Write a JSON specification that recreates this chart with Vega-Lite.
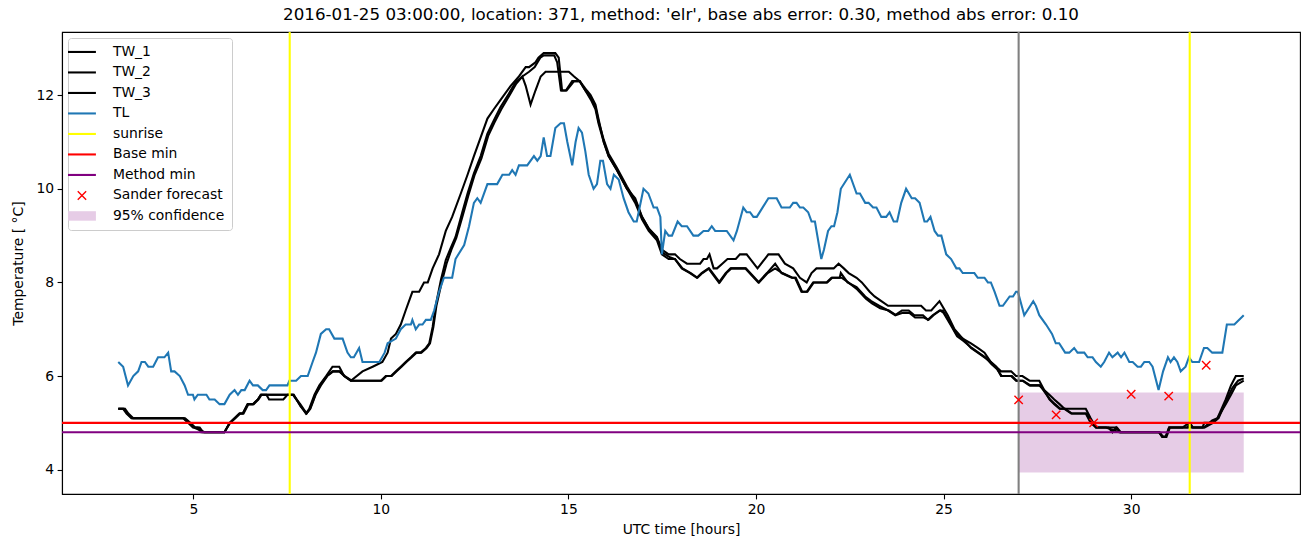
{
  "$schema": "https://vega.github.io/schema/vega-lite/v6.json",
  "autosize": {"type": "none"},
  "width": 1238,
  "height": 462,
  "padding": {"left": 62, "top": 32, "right": 10, "bottom": 53},
  "background": "white",
  "title": {"text": "2016-01-25 03:00:00, location: 371, method: 'elr', base abs error: 0.30, method abs error: 0.10", "font": "DejaVu Sans", "fontSize": 16.7, "fontWeight": "normal", "color": "black", "anchor": "middle", "offset": 7},
  "config": {
    "view": {"stroke": "black", "strokeWidth": 1.1},
    "axis": {"labelFont": "DejaVu Sans", "labelFontSize": 13.9, "titleFont": "DejaVu Sans", "titleFontSize": 13.9, "titleFontWeight": "normal", "labelColor": "black", "titleColor": "black", "tickColor": "black", "domainColor": "black", "domainWidth": 1.1, "tickWidth": 1.1, "grid": false, "tickSize": 4.9, "labelPadding": 3.5},
    "legend": {"labelFont": "DejaVu Sans", "labelFontSize": 13.9, "labelColor": "black"}
  },
  "datasets": {
    "lines": [
      {"s":"TW_1","t":3.0,"v":5.3},{"s":"TW_1","t":3.13,"v":5.3},{"s":"TW_1","t":3.22,"v":5.2},{"s":"TW_1","t":3.35,"v":5.1},{"s":"TW_1","t":4.73,"v":5.1},{"s":"TW_1","t":4.86,"v":5.0},{"s":"TW_1","t":4.99,"v":4.9},{"s":"TW_1","t":5.12,"v":4.9},{"s":"TW_1","t":5.21,"v":4.8},{"s":"TW_1","t":5.83,"v":4.8},{"s":"TW_1","t":5.97,"v":5.0},{"s":"TW_1","t":6.1,"v":5.1},{"s":"TW_1","t":6.23,"v":5.2},{"s":"TW_1","t":6.32,"v":5.2},{"s":"TW_1","t":6.45,"v":5.4},{"s":"TW_1","t":6.59,"v":5.4},{"s":"TW_1","t":6.72,"v":5.5},{"s":"TW_1","t":6.8,"v":5.6},{"s":"TW_1","t":7.51,"v":5.6},{"s":"TW_1","t":7.66,"v":5.6},{"s":"TW_1","t":7.83,"v":5.4},{"s":"TW_1","t":8.0,"v":5.2},{"s":"TW_1","t":8.09,"v":5.3},{"s":"TW_1","t":8.23,"v":5.6},{"s":"TW_1","t":8.36,"v":5.8},{"s":"TW_1","t":8.54,"v":6.0},{"s":"TW_1","t":8.71,"v":6.2},{"s":"TW_1","t":8.89,"v":6.2},{"s":"TW_1","t":9.02,"v":6.0},{"s":"TW_1","t":9.2,"v":5.9},
      {"s":"TW_1","t":9.51,"v":6.1},{"s":"TW_1","t":9.78,"v":6.2},{"s":"TW_1","t":10.04,"v":6.3},{"s":"TW_1","t":10.18,"v":6.5},{"s":"TW_1","t":10.27,"v":6.8},{"s":"TW_1","t":10.4,"v":6.9},{"s":"TW_1","t":10.53,"v":7.1},{"s":"TW_1","t":10.66,"v":7.4},{"s":"TW_1","t":10.84,"v":7.8},{"s":"TW_1","t":11.02,"v":7.8},{"s":"TW_1","t":11.15,"v":8.0},{"s":"TW_1","t":11.25,"v":8.0},{"s":"TW_1","t":11.38,"v":8.3},{"s":"TW_1","t":11.55,"v":8.6},{"s":"TW_1","t":11.73,"v":9.1},{"s":"TW_1","t":11.9,"v":9.4},{"s":"TW_1","t":12.13,"v":9.9},{"s":"TW_1","t":12.31,"v":10.3},{"s":"TW_1","t":12.48,"v":10.7},{"s":"TW_1","t":12.66,"v":11.1},{"s":"TW_1","t":12.84,"v":11.5},{"s":"TW_1","t":13.01,"v":11.7},{"s":"TW_1","t":13.19,"v":11.9},{"s":"TW_1","t":13.46,"v":12.2},{"s":"TW_1","t":13.68,"v":12.4},{"s":"TW_1","t":13.86,"v":12.6},{"s":"TW_1","t":13.95,"v":12.6},{"s":"TW_1","t":14.12,"v":12.7},{"s":"TW_1","t":14.2,"v":12.8},{"s":"TW_1","t":14.34,"v":12.9},{"s":"TW_1","t":14.65,"v":12.9},{"s":"TW_1","t":14.74,"v":12.8},{"s":"TW_1","t":14.83,"v":12.1},{"s":"TW_1","t":14.93,"v":12.1},{"s":"TW_1","t":15.1,"v":12.3},{"s":"TW_1","t":15.3,"v":12.3},{"s":"TW_1","t":15.49,"v":12.1},{"s":"TW_1","t":15.59,"v":12.0},{"s":"TW_1","t":15.72,"v":11.8},{"s":"TW_1","t":15.8,"v":11.5},{"s":"TW_1","t":15.94,"v":11.0},{"s":"TW_1","t":16.07,"v":10.7},{"s":"TW_1","t":16.29,"v":10.4},{"s":"TW_1","t":16.56,"v":10.0},{"s":"TW_1","t":16.78,"v":9.8},{"s":"TW_1","t":16.96,"v":9.4},{"s":"TW_1","t":17.14,"v":9.15},{"s":"TW_1","t":17.36,"v":8.97},{"s":"TW_1","t":17.49,"v":8.7},{"s":"TW_1","t":17.67,"v":8.6},{"s":"TW_1","t":17.84,"v":8.6},{"s":"TW_1","t":17.97,"v":8.5},{"s":"TW_1","t":18.16,"v":8.4},{"s":"TW_1","t":18.51,"v":8.4},{"s":"TW_1","t":18.6,"v":8.5},{"s":"TW_1","t":18.69,"v":8.5},{"s":"TW_1","t":18.76,"v":8.6},{"s":"TW_1","t":18.87,"v":8.3},{"s":"TW_1","t":18.96,"v":8.3},{"s":"TW_1","t":19.1,"v":8.4},{"s":"TW_1","t":19.24,"v":8.5},{"s":"TW_1","t":19.46,"v":8.5},{"s":"TW_1","t":19.57,"v":8.6},{"s":"TW_1","t":19.75,"v":8.6},{"s":"TW_1","t":20.04,"v":8.3},{"s":"TW_1","t":20.33,"v":8.6},{"s":"TW_1","t":20.6,"v":8.6},{"s":"TW_1","t":20.77,"v":8.4},{"s":"TW_1","t":20.99,"v":8.3},{"s":"TW_1","t":21.17,"v":8.1},{"s":"TW_1","t":21.35,"v":8.0},{"s":"TW_1","t":21.48,"v":8.2},{"s":"TW_1","t":21.61,"v":8.3},{"s":"TW_1","t":22.07,"v":8.3},{"s":"TW_1","t":22.2,"v":8.4},{"s":"TW_1","t":22.34,"v":8.3},{"s":"TW_1","t":22.47,"v":8.2},{"s":"TW_1","t":22.68,"v":8.1},{"s":"TW_1","t":22.82,"v":8.0},{"s":"TW_1","t":23.03,"v":7.8},{"s":"TW_1","t":23.16,"v":7.7},{"s":"TW_1","t":23.34,"v":7.6},{"s":"TW_1","t":23.52,"v":7.5},{"s":"TW_1","t":24.4,"v":7.5},{"s":"TW_1","t":24.53,"v":7.4},{"s":"TW_1","t":24.67,"v":7.4},{"s":"TW_1","t":24.89,"v":7.6},{"s":"TW_1","t":25.11,"v":7.3},{"s":"TW_1","t":25.29,"v":7.0},{"s":"TW_1","t":25.51,"v":6.8},{"s":"TW_1","t":25.73,"v":6.7},{"s":"TW_1","t":25.91,"v":6.6},{"s":"TW_1","t":26.09,"v":6.5},{"s":"TW_1","t":26.26,"v":6.3},{"s":"TW_1","t":26.4,"v":6.2},{"s":"TW_1","t":26.53,"v":6.1},{"s":"TW_1","t":26.8,"v":6.1},{"s":"TW_1","t":26.93,"v":6.0},{"s":"TW_1","t":27.1,"v":6.0},{"s":"TW_1","t":27.29,"v":5.9},{"s":"TW_1","t":27.55,"v":5.9},{"s":"TW_1","t":27.68,"v":5.7},{"s":"TW_1","t":27.82,"v":5.6},{"s":"TW_1","t":27.95,"v":5.5},{"s":"TW_1","t":28.09,"v":5.4},{"s":"TW_1","t":28.22,"v":5.3},{"s":"TW_1","t":28.79,"v":5.3},{"s":"TW_1","t":28.92,"v":5.1},{"s":"TW_1","t":29.06,"v":4.9},{"s":"TW_1","t":29.33,"v":4.9},{"s":"TW_1","t":29.68,"v":4.8},{"s":"TW_1","t":30.74,"v":4.8},{"s":"TW_1","t":30.83,"v":4.7},{"s":"TW_1","t":30.92,"v":4.7},{"s":"TW_1","t":31.01,"v":4.9},{"s":"TW_1","t":31.37,"v":4.9},{"s":"TW_1","t":31.54,"v":5.0},{"s":"TW_1","t":31.63,"v":4.9},{"s":"TW_1","t":31.94,"v":4.9},{"s":"TW_1","t":32.16,"v":5.05},{"s":"TW_1","t":32.3,"v":5.1},{"s":"TW_1","t":32.52,"v":5.5},{"s":"TW_1","t":32.66,"v":5.8},{"s":"TW_1","t":32.79,"v":6.0},{"s":"TW_1","t":33.0,"v":6.0},

      {"s":"TW_2","t":3.0,"v":5.3},{"s":"TW_2","t":3.18,"v":5.3},{"s":"TW_2","t":3.27,"v":5.2},{"s":"TW_2","t":3.4,"v":5.1},{"s":"TW_2","t":4.78,"v":5.1},{"s":"TW_2","t":4.92,"v":5.0},{"s":"TW_2","t":5.05,"v":4.9},{"s":"TW_2","t":5.17,"v":4.9},{"s":"TW_2","t":5.26,"v":4.8},{"s":"TW_2","t":5.83,"v":4.8},{"s":"TW_2","t":5.97,"v":5.0},{"s":"TW_2","t":6.1,"v":5.1},{"s":"TW_2","t":6.23,"v":5.2},{"s":"TW_2","t":6.32,"v":5.2},{"s":"TW_2","t":6.45,"v":5.4},{"s":"TW_2","t":6.59,"v":5.4},{"s":"TW_2","t":6.72,"v":5.5},{"s":"TW_2","t":6.8,"v":5.6},{"s":"TW_2","t":6.95,"v":5.6},{"s":"TW_2","t":7.02,"v":5.5},{"s":"TW_2","t":7.4,"v":5.5},{"s":"TW_2","t":7.51,"v":5.6},{"s":"TW_2","t":7.66,"v":5.6},{"s":"TW_2","t":7.85,"v":5.4},{"s":"TW_2","t":8.02,"v":5.2},{"s":"TW_2","t":8.11,"v":5.3},{"s":"TW_2","t":8.25,"v":5.6},{"s":"TW_2","t":8.38,"v":5.8},{"s":"TW_2","t":8.56,"v":6.0},{"s":"TW_2","t":8.71,"v":6.1},{"s":"TW_2","t":8.89,"v":6.1},{"s":"TW_2","t":9.02,"v":6.0},{"s":"TW_2","t":9.2,"v":5.9},
      {"s":"TW_2","t":10.0,"v":5.9},{"s":"TW_2","t":10.13,"v":6.0},{"s":"TW_2","t":10.27,"v":6.0},{"s":"TW_2","t":10.4,"v":6.1},{"s":"TW_2","t":10.53,"v":6.2},{"s":"TW_2","t":10.66,"v":6.3},{"s":"TW_2","t":10.8,"v":6.4},{"s":"TW_2","t":10.93,"v":6.5},{"s":"TW_2","t":11.06,"v":6.5},{"s":"TW_2","t":11.2,"v":6.6},{"s":"TW_2","t":11.29,"v":6.7},{"s":"TW_2","t":11.38,"v":7.05},{"s":"TW_2","t":11.46,"v":7.5},{"s":"TW_2","t":11.6,"v":8.05},{"s":"TW_2","t":11.73,"v":8.48},{"s":"TW_2","t":11.86,"v":8.73},{"s":"TW_2","t":11.99,"v":8.97},{"s":"TW_2","t":12.17,"v":9.5},{"s":"TW_2","t":12.31,"v":9.9},{"s":"TW_2","t":12.48,"v":10.33},{"s":"TW_2","t":12.66,"v":10.7},{"s":"TW_2","t":12.84,"v":11.18},{"s":"TW_2","t":13.01,"v":11.46},{"s":"TW_2","t":13.19,"v":11.75},{"s":"TW_2","t":13.41,"v":12.03},{"s":"TW_2","t":13.59,"v":12.28},{"s":"TW_2","t":13.77,"v":12.4},{"s":"TW_2","t":13.95,"v":12.5},{"s":"TW_2","t":14.1,"v":12.6},{"s":"TW_2","t":14.25,"v":12.8},{"s":"TW_2","t":14.34,"v":12.85},{"s":"TW_2","t":14.62,"v":12.85},{"s":"TW_2","t":14.7,"v":12.7},{"s":"TW_2","t":14.8,"v":12.1},{"s":"TW_2","t":14.95,"v":12.1},{"s":"TW_2","t":15.05,"v":12.2},{"s":"TW_2","t":15.15,"v":12.3},{"s":"TW_2","t":15.3,"v":12.3},{"s":"TW_2","t":15.45,"v":12.1},{"s":"TW_2","t":15.6,"v":11.9},{"s":"TW_2","t":15.72,"v":11.7},{"s":"TW_2","t":15.8,"v":11.4},{"s":"TW_2","t":15.94,"v":11.0},{"s":"TW_2","t":16.07,"v":10.7},{"s":"TW_2","t":16.29,"v":10.4},{"s":"TW_2","t":16.56,"v":10.0},{"s":"TW_2","t":16.78,"v":9.7},{"s":"TW_2","t":16.96,"v":9.35},{"s":"TW_2","t":17.14,"v":9.1},{"s":"TW_2","t":17.36,"v":8.9},{"s":"TW_2","t":17.49,"v":8.6},{"s":"TW_2","t":17.67,"v":8.5},{"s":"TW_2","t":17.84,"v":8.5},{"s":"TW_2","t":18.02,"v":8.3},{"s":"TW_2","t":18.24,"v":8.2},{"s":"TW_2","t":18.42,"v":8.1},{"s":"TW_2","t":18.55,"v":8.2},{"s":"TW_2","t":18.73,"v":8.3},{"s":"TW_2","t":19.01,"v":8.0},{"s":"TW_2","t":19.19,"v":8.2},{"s":"TW_2","t":19.32,"v":8.3},{"s":"TW_2","t":19.71,"v":8.3},{"s":"TW_2","t":20.06,"v":8.0},{"s":"TW_2","t":20.29,"v":8.2},{"s":"TW_2","t":20.51,"v":8.4},{"s":"TW_2","t":20.68,"v":8.2},{"s":"TW_2","t":20.95,"v":8.1},{"s":"TW_2","t":21.04,"v":8.1},{"s":"TW_2","t":21.21,"v":7.8},{"s":"TW_2","t":21.35,"v":7.8},{"s":"TW_2","t":21.52,"v":8.0},{"s":"TW_2","t":21.88,"v":8.0},{"s":"TW_2","t":22.01,"v":8.1},{"s":"TW_2","t":22.23,"v":8.1},{"s":"TW_2","t":22.26,"v":8.2},{"s":"TW_2","t":22.44,"v":8.0},{"s":"TW_2","t":22.68,"v":7.9},{"s":"TW_2","t":22.91,"v":7.7},{"s":"TW_2","t":23.07,"v":7.6},{"s":"TW_2","t":23.29,"v":7.5},{"s":"TW_2","t":23.52,"v":7.4},{"s":"TW_2","t":23.71,"v":7.3},{"s":"TW_2","t":23.89,"v":7.4},{"s":"TW_2","t":24.07,"v":7.4},{"s":"TW_2","t":24.22,"v":7.3},{"s":"TW_2","t":24.45,"v":7.3},{"s":"TW_2","t":24.58,"v":7.2},{"s":"TW_2","t":24.71,"v":7.3},{"s":"TW_2","t":24.89,"v":7.4},{"s":"TW_2","t":24.98,"v":7.4},{"s":"TW_2","t":25.2,"v":7.1},{"s":"TW_2","t":25.34,"v":6.9},{"s":"TW_2","t":25.51,"v":6.8},{"s":"TW_2","t":25.73,"v":6.6},{"s":"TW_2","t":25.91,"v":6.5},{"s":"TW_2","t":26.09,"v":6.4},{"s":"TW_2","t":26.26,"v":6.3},{"s":"TW_2","t":26.4,"v":6.2},{"s":"TW_2","t":26.53,"v":6.0},{"s":"TW_2","t":26.8,"v":6.0},{"s":"TW_2","t":26.93,"v":5.9},{"s":"TW_2","t":27.1,"v":5.9},{"s":"TW_2","t":27.29,"v":5.8},{"s":"TW_2","t":27.55,"v":5.8},{"s":"TW_2","t":27.68,"v":5.7},{"s":"TW_2","t":27.82,"v":5.5},{"s":"TW_2","t":27.95,"v":5.4},{"s":"TW_2","t":28.09,"v":5.3},{"s":"TW_2","t":28.22,"v":5.3},{"s":"TW_2","t":28.4,"v":5.2},{"s":"TW_2","t":28.79,"v":5.2},{"s":"TW_2","t":28.92,"v":5.0},{"s":"TW_2","t":29.06,"v":4.9},{"s":"TW_2","t":29.4,"v":4.9},{"s":"TW_2","t":29.5,"v":4.8},{"s":"TW_2","t":29.6,"v":4.9},{"s":"TW_2","t":29.7,"v":4.8},{"s":"TW_2","t":30.74,"v":4.8},{"s":"TW_2","t":30.83,"v":4.7},{"s":"TW_2","t":30.92,"v":4.7},{"s":"TW_2","t":31.01,"v":4.9},{"s":"TW_2","t":31.9,"v":4.9},{"s":"TW_2","t":31.95,"v":5.0},{"s":"TW_2","t":32.16,"v":5.0},{"s":"TW_2","t":32.3,"v":5.1},{"s":"TW_2","t":32.52,"v":5.4},{"s":"TW_2","t":32.66,"v":5.6},{"s":"TW_2","t":32.79,"v":5.8},{"s":"TW_2","t":33.0,"v":5.9},

      {"s":"TW_3","t":3.0,"v":5.3},{"s":"TW_3","t":3.15,"v":5.3},{"s":"TW_3","t":3.24,"v":5.2},{"s":"TW_3","t":3.37,"v":5.1},{"s":"TW_3","t":4.75,"v":5.1},{"s":"TW_3","t":4.89,"v":5.0},{"s":"TW_3","t":5.02,"v":4.9},{"s":"TW_3","t":5.3,"v":4.8},{"s":"TW_3","t":5.83,"v":4.8},{"s":"TW_3","t":5.98,"v":5.0},{"s":"TW_3","t":6.12,"v":5.1},{"s":"TW_3","t":6.25,"v":5.2},{"s":"TW_3","t":6.34,"v":5.2},{"s":"TW_3","t":6.47,"v":5.4},{"s":"TW_3","t":6.61,"v":5.4},{"s":"TW_3","t":6.74,"v":5.5},{"s":"TW_3","t":6.82,"v":5.6},{"s":"TW_3","t":7.55,"v":5.6},{"s":"TW_3","t":7.68,"v":5.6},{"s":"TW_3","t":7.86,"v":5.35},{"s":"TW_3","t":8.02,"v":5.2},{"s":"TW_3","t":8.12,"v":5.3},{"s":"TW_3","t":8.26,"v":5.6},{"s":"TW_3","t":8.4,"v":5.8},{"s":"TW_3","t":8.57,"v":6.0},{"s":"TW_3","t":8.73,"v":6.1},{"s":"TW_3","t":8.89,"v":6.1},{"s":"TW_3","t":9.04,"v":6.0},{"s":"TW_3","t":9.22,"v":5.9},
      {"s":"TW_3","t":10.02,"v":5.9},{"s":"TW_3","t":10.15,"v":6.0},{"s":"TW_3","t":10.29,"v":6.0},{"s":"TW_3","t":10.42,"v":6.1},{"s":"TW_3","t":10.55,"v":6.2},{"s":"TW_3","t":10.68,"v":6.3},{"s":"TW_3","t":10.82,"v":6.4},{"s":"TW_3","t":10.95,"v":6.5},{"s":"TW_3","t":11.08,"v":6.5},{"s":"TW_3","t":11.22,"v":6.6},{"s":"TW_3","t":11.31,"v":6.7},{"s":"TW_3","t":11.4,"v":7.05},{"s":"TW_3","t":11.48,"v":7.5},{"s":"TW_3","t":11.62,"v":8.0},{"s":"TW_3","t":11.75,"v":8.4},{"s":"TW_3","t":11.88,"v":8.7},{"s":"TW_3","t":12.01,"v":8.95},{"s":"TW_3","t":12.19,"v":9.45},{"s":"TW_3","t":12.33,"v":9.85},{"s":"TW_3","t":12.5,"v":10.3},{"s":"TW_3","t":12.68,"v":10.65},{"s":"TW_3","t":12.86,"v":11.13},{"s":"TW_3","t":13.03,"v":11.42},{"s":"TW_3","t":13.21,"v":11.7},{"s":"TW_3","t":13.43,"v":12.0},{"s":"TW_3","t":13.61,"v":12.25},{"s":"TW_3","t":13.77,"v":12.4},{"s":"TW_3","t":13.86,"v":12.2},{"s":"TW_3","t":13.99,"v":11.8},{"s":"TW_3","t":14.12,"v":12.1},{"s":"TW_3","t":14.26,"v":12.4},{"s":"TW_3","t":14.39,"v":12.5},{"s":"TW_3","t":15.01,"v":12.5},{"s":"TW_3","t":15.15,"v":12.4},{"s":"TW_3","t":15.3,"v":12.3},{"s":"TW_3","t":15.45,"v":12.1},{"s":"TW_3","t":15.6,"v":11.95},{"s":"TW_3","t":15.72,"v":11.75},{"s":"TW_3","t":15.8,"v":11.45},{"s":"TW_3","t":15.94,"v":11.05},{"s":"TW_3","t":16.07,"v":10.75},{"s":"TW_3","t":16.29,"v":10.45},{"s":"TW_3","t":16.56,"v":10.05},{"s":"TW_3","t":16.78,"v":9.75},{"s":"TW_3","t":16.96,"v":9.4},{"s":"TW_3","t":17.14,"v":9.15},{"s":"TW_3","t":17.36,"v":8.95},{"s":"TW_3","t":17.49,"v":8.65},{"s":"TW_3","t":17.67,"v":8.55},{"s":"TW_3","t":17.84,"v":8.5},{"s":"TW_3","t":18.04,"v":8.3},{"s":"TW_3","t":18.26,"v":8.2},{"s":"TW_3","t":18.44,"v":8.1},{"s":"TW_3","t":18.57,"v":8.2},{"s":"TW_3","t":18.75,"v":8.3},{"s":"TW_3","t":19.03,"v":8.0},{"s":"TW_3","t":19.21,"v":8.2},{"s":"TW_3","t":19.34,"v":8.3},{"s":"TW_3","t":19.73,"v":8.3},{"s":"TW_3","t":20.08,"v":8.0},{"s":"TW_3","t":20.31,"v":8.2},{"s":"TW_3","t":20.51,"v":8.3},{"s":"TW_3","t":20.7,"v":8.2},{"s":"TW_3","t":20.97,"v":8.1},{"s":"TW_3","t":21.06,"v":8.1},{"s":"TW_3","t":21.23,"v":7.8},{"s":"TW_3","t":21.37,"v":7.8},{"s":"TW_3","t":21.54,"v":8.0},{"s":"TW_3","t":21.9,"v":8.0},{"s":"TW_3","t":22.03,"v":8.1},{"s":"TW_3","t":22.28,"v":8.1},{"s":"TW_3","t":22.46,"v":8.0},{"s":"TW_3","t":22.7,"v":7.85},{"s":"TW_3","t":22.93,"v":7.65},{"s":"TW_3","t":23.09,"v":7.55},{"s":"TW_3","t":23.31,"v":7.45},{"s":"TW_3","t":23.54,"v":7.4},{"s":"TW_3","t":23.73,"v":7.3},{"s":"TW_3","t":23.91,"v":7.35},{"s":"TW_3","t":24.09,"v":7.35},{"s":"TW_3","t":24.24,"v":7.25},{"s":"TW_3","t":24.47,"v":7.25},{"s":"TW_3","t":24.6,"v":7.2},{"s":"TW_3","t":24.73,"v":7.3},{"s":"TW_3","t":24.91,"v":7.4},{"s":"TW_3","t":25.0,"v":7.35},{"s":"TW_3","t":25.22,"v":7.05},{"s":"TW_3","t":25.36,"v":6.85},{"s":"TW_3","t":25.53,"v":6.75},{"s":"TW_3","t":25.75,"v":6.6},{"s":"TW_3","t":25.93,"v":6.5},{"s":"TW_3","t":26.11,"v":6.4},{"s":"TW_3","t":26.28,"v":6.25},{"s":"TW_3","t":26.42,"v":6.15},{"s":"TW_3","t":26.55,"v":6.0},{"s":"TW_3","t":26.82,"v":6.0},{"s":"TW_3","t":26.95,"v":5.9},{"s":"TW_3","t":27.12,"v":5.9},{"s":"TW_3","t":27.31,"v":5.8},{"s":"TW_3","t":27.57,"v":5.8},{"s":"TW_3","t":27.7,"v":5.65},{"s":"TW_3","t":27.84,"v":5.5},{"s":"TW_3","t":27.97,"v":5.4},{"s":"TW_3","t":28.11,"v":5.3},{"s":"TW_3","t":28.24,"v":5.3},{"s":"TW_3","t":28.42,"v":5.2},{"s":"TW_3","t":28.81,"v":5.2},{"s":"TW_3","t":28.94,"v":5.0},{"s":"TW_3","t":29.08,"v":4.9},{"s":"TW_3","t":29.62,"v":4.9},{"s":"TW_3","t":29.72,"v":4.8},{"s":"TW_3","t":30.76,"v":4.8},{"s":"TW_3","t":30.85,"v":4.7},{"s":"TW_3","t":30.94,"v":4.7},{"s":"TW_3","t":31.03,"v":4.9},{"s":"TW_3","t":31.5,"v":4.9},{"s":"TW_3","t":31.56,"v":5.0},{"s":"TW_3","t":31.65,"v":4.9},{"s":"TW_3","t":31.96,"v":4.9},{"s":"TW_3","t":32.18,"v":5.0},{"s":"TW_3","t":32.33,"v":5.1},{"s":"TW_3","t":32.55,"v":5.5},{"s":"TW_3","t":32.7,"v":5.75},{"s":"TW_3","t":32.85,"v":5.9},{"s":"TW_3","t":33.0,"v":5.95},

      {"s":"TL","t":3.0,"v":6.3},{"s":"TL","t":3.13,"v":6.2},{"s":"TL","t":3.26,"v":5.8},{"s":"TL","t":3.4,"v":6.0},{"s":"TL","t":3.53,"v":6.1},{"s":"TL","t":3.62,"v":6.3},{"s":"TL","t":3.71,"v":6.3},{"s":"TL","t":3.8,"v":6.2},{"s":"TL","t":3.93,"v":6.2},{"s":"TL","t":4.06,"v":6.4},{"s":"TL","t":4.23,"v":6.4},{"s":"TL","t":4.33,"v":6.5},{"s":"TL","t":4.41,"v":6.1},{"s":"TL","t":4.5,"v":6.1},{"s":"TL","t":4.64,"v":6.0},{"s":"TL","t":4.77,"v":5.8},{"s":"TL","t":4.86,"v":5.6},{"s":"TL","t":4.99,"v":5.6},{"s":"TL","t":5.03,"v":5.5},{"s":"TL","t":5.12,"v":5.6},{"s":"TL","t":5.35,"v":5.6},{"s":"TL","t":5.43,"v":5.5},{"s":"TL","t":5.57,"v":5.5},{"s":"TL","t":5.7,"v":5.4},{"s":"TL","t":5.83,"v":5.4},{"s":"TL","t":5.97,"v":5.6},{"s":"TL","t":6.1,"v":5.7},{"s":"TL","t":6.19,"v":5.6},{"s":"TL","t":6.28,"v":5.7},{"s":"TL","t":6.37,"v":5.7},{"s":"TL","t":6.5,"v":5.9},{"s":"TL","t":6.59,"v":5.8},{"s":"TL","t":6.72,"v":5.8},{"s":"TL","t":6.85,"v":5.7},{"s":"TL","t":6.94,"v":5.7},{"s":"TL","t":7.03,"v":5.8},{"s":"TL","t":7.51,"v":5.8},{"s":"TL","t":7.56,"v":5.9},{"s":"TL","t":7.74,"v":5.9},{"s":"TL","t":7.87,"v":6.0},{"s":"TL","t":8.05,"v":6.0},{"s":"TL","t":8.18,"v":6.3},{"s":"TL","t":8.27,"v":6.5},{"s":"TL","t":8.4,"v":6.9},{"s":"TL","t":8.54,"v":7.0},{"s":"TL","t":8.62,"v":7.0},{"s":"TL","t":8.76,"v":6.8},{"s":"TL","t":8.98,"v":6.8},{"s":"TL","t":9.11,"v":6.5},{"s":"TL","t":9.2,"v":6.4},{"s":"TL","t":9.28,"v":6.4},{"s":"TL","t":9.42,"v":6.6},{"s":"TL","t":9.51,"v":6.3},{"s":"TL","t":9.96,"v":6.3},{"s":"TL","t":10.1,"v":6.5},{"s":"TL","t":10.18,"v":6.7},{"s":"TL","t":10.4,"v":6.8},{"s":"TL","t":10.53,"v":7.0},{"s":"TL","t":10.66,"v":7.1},{"s":"TL","t":10.8,"v":7.1},{"s":"TL","t":10.84,"v":7.2},{"s":"TL","t":10.93,"v":7.0},{"s":"TL","t":11.02,"v":7.1},{"s":"TL","t":11.11,"v":7.1},{"s":"TL","t":11.2,"v":7.2},{"s":"TL","t":11.33,"v":7.2},{"s":"TL","t":11.42,"v":7.4},{"s":"TL","t":11.55,"v":7.8},{"s":"TL","t":11.68,"v":8.1},{"s":"TL","t":11.9,"v":8.1},{"s":"TL","t":11.99,"v":8.5},{"s":"TL","t":12.22,"v":8.8},{"s":"TL","t":12.35,"v":9.2},{"s":"TL","t":12.48,"v":9.7},{"s":"TL","t":12.57,"v":9.8},{"s":"TL","t":12.66,"v":9.7},{"s":"TL","t":12.84,"v":10.1},{"s":"TL","t":13.1,"v":10.1},{"s":"TL","t":13.24,"v":10.3},{"s":"TL","t":13.42,"v":10.3},{"s":"TL","t":13.5,"v":10.4},{"s":"TL","t":13.59,"v":10.3},{"s":"TL","t":13.68,"v":10.5},{"s":"TL","t":13.9,"v":10.5},{"s":"TL","t":14.08,"v":10.7},{"s":"TL","t":14.17,"v":10.6},{"s":"TL","t":14.26,"v":10.7},{"s":"TL","t":14.34,"v":11.1},{"s":"TL","t":14.43,"v":10.7},{"s":"TL","t":14.52,"v":10.7},{"s":"TL","t":14.65,"v":11.3},{"s":"TL","t":14.79,"v":11.4},{"s":"TL","t":14.88,"v":11.4},{"s":"TL","t":14.97,"v":11.0},{"s":"TL","t":15.1,"v":10.5},{"s":"TL","t":15.19,"v":11.0},{"s":"TL","t":15.27,"v":11.3},{"s":"TL","t":15.36,"v":11.2},{"s":"TL","t":15.45,"v":10.8},{"s":"TL","t":15.54,"v":10.3},{"s":"TL","t":15.67,"v":10.0},{"s":"TL","t":15.76,"v":10.1},{"s":"TL","t":15.85,"v":10.6},{"s":"TL","t":15.92,"v":10.6},{"s":"TL","t":16.03,"v":10.1},{"s":"TL","t":16.12,"v":10.0},{"s":"TL","t":16.21,"v":10.3},{"s":"TL","t":16.34,"v":10.2},{"s":"TL","t":16.47,"v":9.8},{"s":"TL","t":16.6,"v":9.5},{"s":"TL","t":16.74,"v":9.3},{"s":"TL","t":16.82,"v":9.3},{"s":"TL","t":17.0,"v":10.0},{"s":"TL","t":17.13,"v":9.9},{"s":"TL","t":17.27,"v":9.6},{"s":"TL","t":17.36,"v":9.6},{"s":"TL","t":17.45,"v":9.4},{"s":"TL","t":17.49,"v":8.6},{"s":"TL","t":17.58,"v":9.1},{"s":"TL","t":17.67,"v":9.0},{"s":"TL","t":17.76,"v":9.0},{"s":"TL","t":17.91,"v":9.3},{"s":"TL","t":18.02,"v":9.2},{"s":"TL","t":18.16,"v":9.2},{"s":"TL","t":18.33,"v":9.0},{"s":"TL","t":18.46,"v":9.0},{"s":"TL","t":18.6,"v":9.1},{"s":"TL","t":18.73,"v":9.1},{"s":"TL","t":18.82,"v":9.2},{"s":"TL","t":18.91,"v":9.1},{"s":"TL","t":19.22,"v":9.1},{"s":"TL","t":19.4,"v":8.9},{"s":"TL","t":19.49,"v":9.1},{"s":"TL","t":19.66,"v":9.6},{"s":"TL","t":19.75,"v":9.5},{"s":"TL","t":19.84,"v":9.5},{"s":"TL","t":19.93,"v":9.4},{"s":"TL","t":20.02,"v":9.4},{"s":"TL","t":20.33,"v":9.8},{"s":"TL","t":20.55,"v":9.8},{"s":"TL","t":20.68,"v":9.6},{"s":"TL","t":20.9,"v":9.6},{"s":"TL","t":20.99,"v":9.7},{"s":"TL","t":21.08,"v":9.7},{"s":"TL","t":21.17,"v":9.6},{"s":"TL","t":21.26,"v":9.6},{"s":"TL","t":21.39,"v":9.5},{"s":"TL","t":21.48,"v":9.3},{"s":"TL","t":21.57,"v":9.3},{"s":"TL","t":21.74,"v":8.5},{"s":"TL","t":21.81,"v":8.7},{"s":"TL","t":21.92,"v":9.1},{"s":"TL","t":22.01,"v":9.2},{"s":"TL","t":22.08,"v":9.2},{"s":"TL","t":22.17,"v":9.5},{"s":"TL","t":22.26,"v":10.0},{"s":"TL","t":22.5,"v":10.3},{"s":"TL","t":22.68,"v":9.9},{"s":"TL","t":22.77,"v":9.9},{"s":"TL","t":22.91,"v":9.7},{"s":"TL","t":23.0,"v":9.7},{"s":"TL","t":23.12,"v":9.6},{"s":"TL","t":23.21,"v":9.6},{"s":"TL","t":23.34,"v":9.4},{"s":"TL","t":23.47,"v":9.4},{"s":"TL","t":23.56,"v":9.5},{"s":"TL","t":23.67,"v":9.3},{"s":"TL","t":23.76,"v":9.3},{"s":"TL","t":23.87,"v":9.7},{"s":"TL","t":24.0,"v":10.0},{"s":"TL","t":24.15,"v":9.8},{"s":"TL","t":24.24,"v":9.8},{"s":"TL","t":24.36,"v":9.7},{"s":"TL","t":24.49,"v":9.3},{"s":"TL","t":24.56,"v":9.3},{"s":"TL","t":24.65,"v":9.4},{"s":"TL","t":24.76,"v":9.1},{"s":"TL","t":24.85,"v":9.0},{"s":"TL","t":24.94,"v":9.0},{"s":"TL","t":25.07,"v":8.6},{"s":"TL","t":25.2,"v":8.5},{"s":"TL","t":25.34,"v":8.3},{"s":"TL","t":25.42,"v":8.3},{"s":"TL","t":25.51,"v":8.2},{"s":"TL","t":25.82,"v":8.2},{"s":"TL","t":25.91,"v":8.1},{"s":"TL","t":26.09,"v":8.1},{"s":"TL","t":26.18,"v":8.0},{"s":"TL","t":26.26,"v":8.0},{"s":"TL","t":26.36,"v":7.8},{"s":"TL","t":26.49,"v":7.5},{"s":"TL","t":26.58,"v":7.5},{"s":"TL","t":26.76,"v":7.7},{"s":"TL","t":26.85,"v":7.7},{"s":"TL","t":26.93,"v":7.8},{"s":"TL","t":26.98,"v":7.8},{"s":"TL","t":27.15,"v":7.3},{"s":"TL","t":27.39,"v":7.6},{"s":"TL","t":27.46,"v":7.5},{"s":"TL","t":27.55,"v":7.3},{"s":"TL","t":27.73,"v":7.1},{"s":"TL","t":27.89,"v":6.9},{"s":"TL","t":27.99,"v":6.7},{"s":"TL","t":28.08,"v":6.7},{"s":"TL","t":28.24,"v":6.5},{"s":"TL","t":28.35,"v":6.5},{"s":"TL","t":28.48,"v":6.6},{"s":"TL","t":28.57,"v":6.5},{"s":"TL","t":28.75,"v":6.5},{"s":"TL","t":28.84,"v":6.4},{"s":"TL","t":28.97,"v":6.4},{"s":"TL","t":29.06,"v":6.3},{"s":"TL","t":29.19,"v":6.2},{"s":"TL","t":29.28,"v":6.3},{"s":"TL","t":29.41,"v":6.5},{"s":"TL","t":29.5,"v":6.4},{"s":"TL","t":29.64,"v":6.5},{"s":"TL","t":29.73,"v":6.4},{"s":"TL","t":29.82,"v":6.5},{"s":"TL","t":29.95,"v":6.3},{"s":"TL","t":30.04,"v":6.3},{"s":"TL","t":30.17,"v":6.2},{"s":"TL","t":30.26,"v":6.2},{"s":"TL","t":30.35,"v":6.3},{"s":"TL","t":30.48,"v":6.3},{"s":"TL","t":30.57,"v":6.2},{"s":"TL","t":30.73,"v":5.7},{"s":"TL","t":30.85,"v":6.1},{"s":"TL","t":30.98,"v":6.4},{"s":"TL","t":31.05,"v":6.3},{"s":"TL","t":31.14,"v":6.4},{"s":"TL","t":31.23,"v":6.3},{"s":"TL","t":31.32,"v":6.1},{"s":"TL","t":31.45,"v":6.2},{"s":"TL","t":31.54,"v":6.4},{"s":"TL","t":31.63,"v":6.3},{"s":"TL","t":31.81,"v":6.3},{"s":"TL","t":31.94,"v":6.6},{"s":"TL","t":32.03,"v":6.6},{"s":"TL","t":32.16,"v":6.5},{"s":"TL","t":32.43,"v":6.5},{"s":"TL","t":32.55,"v":7.1},{"s":"TL","t":32.75,"v":7.1},{"s":"TL","t":33.0,"v":7.3}
    ],
    "sander": [
      {"t":27,"v":5.49},{"t":28,"v":5.17},{"t":29,"v":5.0},{"t":30,"v":5.61},{"t":31,"v":5.57},{"t":32,"v":6.23}
    ],
    "conf": [{"t0":27,"t1":33,"lo":3.94,"hi":5.65}],
    "vlines": [{"t":7.57,"kind":"sunrise"},{"t":31.56,"kind":"sunrise"},{"t":27.0,"kind":"now"}],
    "hlines": [{"v":5.0,"kind":"Base min"},{"v":4.8,"kind":"Method min"}]
  },
  "layer": [
    {
      "data": {"name": "conf"},
      "mark": {"type": "rect", "color": "purple", "opacity": 0.2},
      "encoding": {
        "x": {"field": "t0", "type": "quantitative", "scale": {"domain": [1.5, 34.5], "nice": false, "zero": false}},
        "x2": {"field": "t1"},
        "y": {"field": "lo", "type": "quantitative", "scale": {"domain": [3.48, 13.35], "nice": false, "zero": false}},
        "y2": {"field": "hi"}
      }
    },
    {
      "data": {"name": "lines"},
      "mark": {"type": "line", "strokeWidth": 2.08},
      "encoding": {
        "x": {"field": "t", "type": "quantitative", "axis": {"title": "UTC time [hours]", "values": [5, 10, 15, 20, 25, 30], "format": "d", "titlePadding": 6}},
        "y": {"field": "v", "type": "quantitative", "axis": {"title": "Temperature [ °C]", "values": [4, 6, 8, 10, 12], "format": "d", "titlePadding": 10}},
        "color": {
          "field": "s", "type": "nominal",
          "scale": {"domain": ["TW_1", "TW_2", "TW_3", "TL", "sunrise", "Base min", "Method min", "Sander forecast", "95% confidence"],
                    "range": ["black", "black", "black", "#1f77b4", "yellow", "red", "purple", "red", "#e6cce6"]},
          "legend": {
            "title": null, "orient": "top-left", "offset": 6,
            "symbolSize": 441, "symbolStrokeWidth": 2.08, "rowPadding": 5.5, "labelOffset": 24,
            "padding": 7, "strokeColor": "#cccccc", "fillColor": "rgba(255,255,255,0.8)", "cornerRadius": 3,
            "labelFontSize": 13.9, "labelLimit": 300,
            "encode": {"symbols": {"update": {
              "shape": {"signal": "datum.value === 'Sander forecast' ? 'M-0.4,-0.4L0.4,0.4M-0.4,0.4L0.4,-0.4' : datum.value === '95% confidence' ? 'M-1.33,-0.45H1.33V0.45H-1.33Z' : 'M-1.33,0H1.33'"},
              "fill": {"signal": "datum.value === '95% confidence' ? '#e6cce6' : 'transparent'"},
              "strokeWidth": {"signal": "datum.value === '95% confidence' ? 0 : (datum.value === 'Sander forecast' ? 1.4 : 2.08)"}
            }}}
          }
        },
        "detail": {"field": "s"}
      }
    },
    {
      "data": {"name": "vlines"},
      "mark": {"type": "rule", "strokeWidth": 2.08},
      "encoding": {
        "x": {"field": "t", "type": "quantitative"},
        "stroke": {"condition": {"test": "datum.kind === 'now'", "value": "gray"}, "value": "yellow"}
      }
    },
    {
      "data": {"name": "hlines"},
      "mark": {"type": "rule", "strokeWidth": 2.08},
      "encoding": {
        "y": {"field": "v", "type": "quantitative"},
        "stroke": {"condition": {"test": "datum.kind === 'Base min'", "value": "red"}, "value": "purple"}
      }
    },
    {
      "data": {"name": "sander"},
      "mark": {"type": "point", "shape": "M-1,-1L1,1M-1,1L1,-1", "size": 70, "filled": false, "stroke": "red", "strokeWidth": 1.4, "opacity": 1},
      "encoding": {
        "x": {"field": "t", "type": "quantitative"},
        "y": {"field": "v", "type": "quantitative"}
      }
    }
  ]
}
